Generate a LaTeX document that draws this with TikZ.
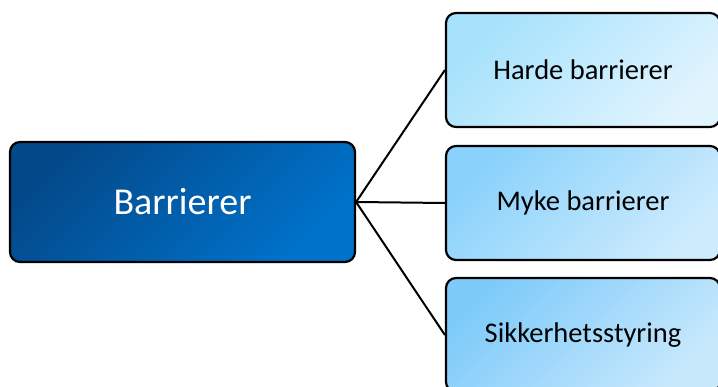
\documentclass[tikz,border=0pt]{standalone}
\usepackage{fontspec}
\setmainfont{Carlito}
\begin{document}
\begin{tikzpicture}[x=1pt,y=-1pt,
  mainbox/.style={draw=black, line width=2.2pt, rounded corners=10pt,
    minimum width=345pt, minimum height=120pt, inner sep=0pt,
    top color=darkA, bottom color=darkB, shading angle=45,
    text=white, font=\fontsize{38}{42}\selectfont},
  subbox/.style={draw=black, line width=2.2pt, rounded corners=10pt,
    minimum width=274pt, minimum height=114pt, inner sep=0pt,
    text=black, font=\fontsize{28.5}{32}\selectfont},
  link/.style={draw=black, line width=2pt}]
\definecolor{darkA}{HTML}{03498A}
\definecolor{darkB}{HTML}{0072CA}
\definecolor{hA}{HTML}{A6E2FC}
\definecolor{hB}{HTML}{E0F4FE}
\definecolor{mA}{HTML}{8AD2FB}
\definecolor{mB}{HTML}{CDEBFD}
\definecolor{sA}{HTML}{7ECBFA}
\definecolor{sB}{HTML}{C8E8FC}
\useasboundingbox (0,0) rectangle (718,387);
\node[mainbox] (bar) at (182.5,202) {Barrierer};
\node[subbox, top color=hA, bottom color=hB, shading angle=45] (hard) at (583,70) {Harde barrierer};
\node[subbox, top color=mA, bottom color=mB, shading angle=45] (soft) at (583,203) {Myke barrierer};
\node[subbox, top color=sA, bottom color=sB, shading angle=45] (sms) at (583,335) {Sikkerhetsstyring};
\draw[link] (bar.east) -- (hard.west);
\draw[link] (bar.east) -- (soft.west);
\draw[link] (bar.east) -- (sms.west);
\end{tikzpicture}
\end{document}
